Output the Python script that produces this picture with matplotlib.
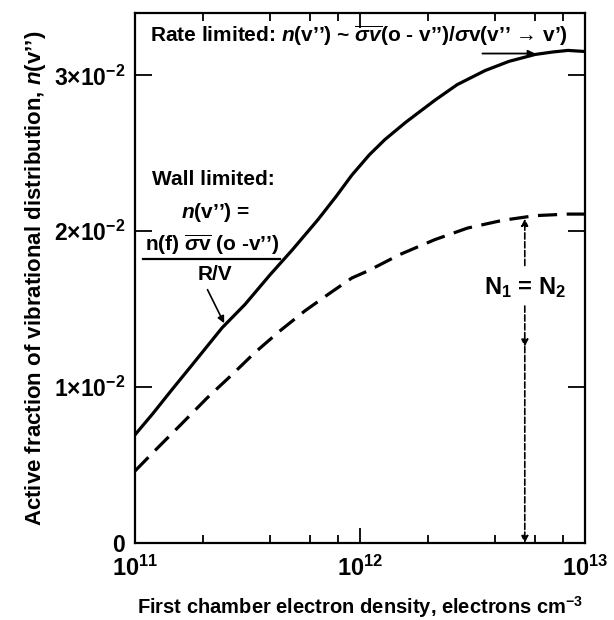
import numpy as np
import matplotlib
matplotlib.use('Agg')
import matplotlib.pyplot as plt
from matplotlib.ticker import FixedLocator, FixedFormatter, NullFormatter

plt.rcParams['font.family'] = ['Liberation Sans', 'DejaVu Sans']
plt.rcParams['font.weight'] = 'bold'
plt.rcParams['axes.labelweight'] = 'bold'
plt.rcParams['mathtext.fontset'] = 'custom'
plt.rcParams['mathtext.rm'] = 'Liberation Sans:bold'
plt.rcParams['mathtext.it'] = 'Liberation Sans:italic:bold'
plt.rcParams['mathtext.bf'] = 'Liberation Sans:bold'
plt.rcParams['mathtext.sf'] = 'Liberation Sans:bold'

# rate limited curve (solid)
x_rate = [1e11, 1.2e11, 1.46e11, 1.8e11, 2.44e11, 3.08e11, 3.98e11, 5e11,
          6.5e11, 7.8e11, 9.2e11, 1.1e12, 1.29e12, 1.6e12, 2.15e12, 2.7e12,
          3.6e12, 4.6e12, 6.0e12, 7.2e12, 8.4e12, 1e13]
y_rate = [0.00694, 0.0083, 0.00984, 0.01145, 0.01381, 0.0153, 0.0172, 0.0188,
          0.02074, 0.0222, 0.0236, 0.0249, 0.02588, 0.0270, 0.0284, 0.0294,
          0.03031, 0.0309, 0.03134, 0.0315, 0.0316, 0.03153]

# wall limited curve (dashed)
x_wall = [1e11, 1.26e11, 1.6e11, 2.09e11, 2.7e11, 3.4e11, 4.4e11, 5.7e11,
          7.3e11, 9.2e11, 1.09e12, 1.5e12, 2.15e12, 3e12, 4.3e12, 6e12,
          8.4e12, 1e13]
y_wall = [0.00462, 0.0061, 0.0076, 0.0093, 0.0108, 0.0122, 0.0136, 0.0149,
          0.0160, 0.0170, 0.01747, 0.0185, 0.01946, 0.0202, 0.0207, 0.0210,
          0.0211, 0.0211]

x_major = [1e11, 1e12, 1e13]
x_major_labels = [r'$10^{11}$', r'$10^{12}$', r'$10^{13}$']
x_minor = [2e11, 4e11, 6e11, 8e11, 2e12, 4e12, 6e12, 8e12]
y_ticks = [0, 0.01, 0.02, 0.03]
y_labels = ['0', r'$1{\times}10^{-2}$', r'$2{\times}10^{-2}$', r'$3{\times}10^{-2}$']

n_eq = 5.4e12  # N1 = N2 marker

fig = plt.figure(figsize=(6.14, 6.20), dpi=100)
ax = fig.add_axes([135 / 614, 77 / 620, 450 / 614, 530 / 620])

ax.plot(x_rate, y_rate, color='black', lw=2.3)
ax.plot(x_wall, y_wall, color='black', lw=2.3, dashes=(6, 3))

ax.set_xscale('log')
ax.set_xlim(1e11, 1e13)
ax.set_ylim(0, 0.034)

ax.xaxis.set_major_locator(FixedLocator(x_major))
ax.xaxis.set_major_formatter(FixedFormatter(x_major_labels))
ax.xaxis.set_minor_locator(FixedLocator(x_minor))
ax.xaxis.set_minor_formatter(NullFormatter())
ax.yaxis.set_major_locator(FixedLocator(y_ticks))
ax.yaxis.set_major_formatter(FixedFormatter(y_labels))

ax.tick_params(which='both', direction='in', top=True, right=True, width=1.3)
ax.tick_params(axis='x', which='major', length=11, labelsize=17, pad=9)
ax.tick_params(axis='x', which='minor', length=6)
ax.tick_params(axis='y', which='major', length=12, labelsize=16.5, pad=7)
for s in ax.spines.values():
    s.set_linewidth(1.6)

ax.set_xlabel(r'First chamber electron density, electrons cm$^{-3}$',
              fontsize=14.5, labelpad=10)
ax.set_ylabel(r"Active fraction of vibrational distribution, $\mathit{n}$(v’’)",
              fontsize=16, labelpad=4)

# annotations
ax.text(1.17e11, 0.0325,
        r'Rate limited: $\mathit{n}$(v’’) ~ $\overline{\sigma v}$(o - v’’)/$\mathit{\sigma}$v(v’’ → v’)',
        fontsize=15, va='center', ha='left')
ax.annotate('', xy=(6.0e12, 0.0314), xytext=(3.5e12, 0.0314),
            arrowprops=dict(arrowstyle='-|>', color='black', lw=1.3,
                            mutation_scale=10, shrinkA=0, shrinkB=0))

ax.text(1.19e11, 0.0233, 'Wall limited:', fontsize=15, va='center', ha='left')
ax.text(2.27e11, 0.0212, r'$\mathit{n}$(v’’) =', fontsize=15, va='center', ha='center')
ax.text(2.2e11, 0.0191, r'n(f) $\overline{\mathit{\sigma}\mathrm{v}}$ (o -v’’)',
        fontsize=15, va='center', ha='center')
ax.plot([1.085e11, 4.41e11], [0.01824, 0.01824], color='black', lw=1.6)
ax.text(2.27e11, 0.0172, 'R/V', fontsize=15, va='center', ha='center')
ax.annotate('', xy=(2.49e11, 0.0141), xytext=(2.1e11, 0.01625),
            arrowprops=dict(arrowstyle='-|>', color='black', lw=1.2,
                            mutation_scale=10, shrinkA=0, shrinkB=0))

ax.text(n_eq, 0.01638, r'N$_1$ = N$_2$', fontsize=17, va='center', ha='center')
ax.annotate('', xy=(n_eq, 0.0208), xytext=(n_eq, 0.0178),
            arrowprops=dict(arrowstyle='-|>', color='black', lw=1.2, ls='--',
                            mutation_scale=10, shrinkA=0, shrinkB=0))
ax.annotate('', xy=(n_eq, 0.0126), xytext=(n_eq, 0.0152),
            arrowprops=dict(arrowstyle='-|>', color='black', lw=1.2, ls='--',
                            mutation_scale=10, shrinkA=0, shrinkB=0))
ax.annotate('', xy=(n_eq, 0.0), xytext=(n_eq, 0.0126),
            arrowprops=dict(arrowstyle='-|>', color='black', lw=1.2, ls='--',
                            mutation_scale=10, shrinkA=0, shrinkB=0))

fig.savefig('out.png', dpi=100)
